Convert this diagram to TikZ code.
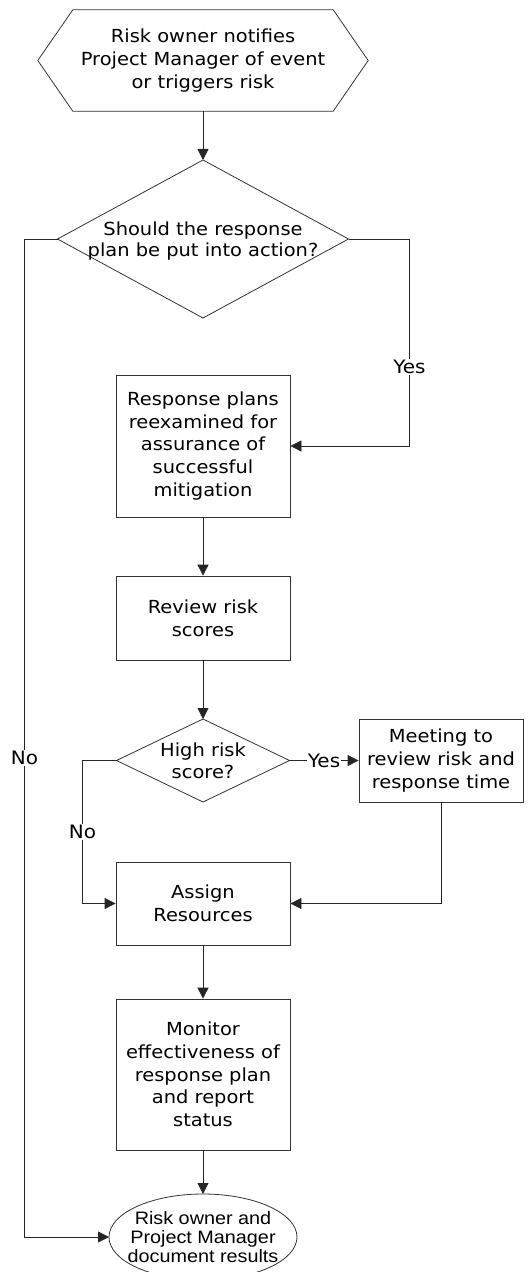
\documentclass[tikz,border=0pt]{standalone}
\usepackage{fontspec}
\setmainfont{DejaVu Sans}[FakeStretch=1.08]
\newfontfamily\termfont{Liberation Sans}[FakeStretch=1.1]
\usetikzlibrary{shapes.geometric,arrows.meta}
% text set in a box of no size, so a shape keeps its given dimensions
\newcommand{\flattext}[1]{\raisebox{-7pt}[0pt][0pt]{\makebox[0pt]{\begin{tabular}{@{}c@{}}#1\end{tabular}}}}
\tikzset{
  base/.style={draw=black!80, line width=0.8pt, align=center, inner sep=0pt,
    font=\fontsize{18}{22.7}\selectfont},
  procbox/.style={base, rectangle, minimum width=174pt},
  decision/.style={base, diamond, inner sep=0pt, outer sep=0pt},
  termbox/.style={base, ellipse, inner sep=0pt, outer sep=0pt,
    minimum width=188pt, minimum height=86pt,
    font=\termfont\fontsize{18}{19}\selectfont},
  ghost/.style={rectangle, inner sep=0pt, align=center,
    font=\fontsize{18}{22.7}\selectfont},
  arr/.style={draw=black!85, line width=0.8pt, -{Triangle[length=11pt,width=11pt]}},
  lbl/.style={fill=white, inner sep=1pt, font=\fontsize{18.5}{20}\selectfont},
}
\begin{document}
\begin{tikzpicture}[x=1pt,y=-1pt]
\useasboundingbox[fill=white] (0,0) rectangle (528,1272);

% start event (hexagon drawn around an invisible box)
\node[ghost, minimum width=330pt, minimum height=101pt] (start) at (203,60.5)
  {Risk owner notifies\\Project Manager of event\\or triggers risk};
\draw[black!80, line width=0.8pt]
  (start.west) -- ([xshift=35pt]start.north west) -- ([xshift=-35pt]start.north east)
  -- (start.east) -- ([xshift=-35pt]start.south east) -- ([xshift=35pt]start.south west)
  -- cycle;

\node[decision, minimum width=291pt, minimum height=158pt] (d1) at (203,239)
  {\renewcommand{\arraystretch}{0.95}\flattext{Should the response\\plan be put into action?}};
\node[procbox, minimum height=142pt] (b1) at (203,446)
  {Response plans\\reexamined for\\assurance of\\successful\\mitigation};
\node[procbox, minimum height=84pt] (b2) at (203,618) {Review risk\\scores};
\node[decision, minimum width=173pt, minimum height=83pt] (d2) at (203,760.5)
  {\renewcommand{\arraystretch}{0.95}\flattext{High risk\\score?}};
\node[procbox, minimum width=164pt, minimum height=83pt] (meet) at (441,760.5)
  {Meeting to\\review risk and\\response time};
\node[procbox, minimum height=83pt] (b3) at (203,903.5) {Assign\\Resources};
\node[procbox, minimum height=151pt] (b4) at (203,1074.5)
  {Monitor\\effectiveness of\\response plan\\and report\\status};
\node[termbox] (end) at (203,1237)
  {\renewcommand{\arraystretch}{1.0}\flattext{Risk owner and\\Project Manager\\document results}};

% connectors
\draw[arr] (start) -- (d1);
\draw[arr] (d1.east) -- ++(61,0) |- node[lbl, pos=0.31] {Yes} (b1.east);
\draw[arr] (d1.west) -- ++(-33,0) |- node[lbl, pos=0.26] {No} (end.west);
\draw[arr] (b1) -- (b2);
\draw[arr] (b2) -- (d2);
\draw[arr] (d2.east) -- node[lbl] {Yes} (meet.west);
\draw[arr] (d2.west) -- ++(-34,0) |- node[lbl, pos=0.25] {No} (b3.west);
\draw[arr] (meet.south) |- (b3.east);
\draw[arr] (b3) -- (b4);
\draw[arr] (b4) -- (end);
\end{tikzpicture}
\end{document}
